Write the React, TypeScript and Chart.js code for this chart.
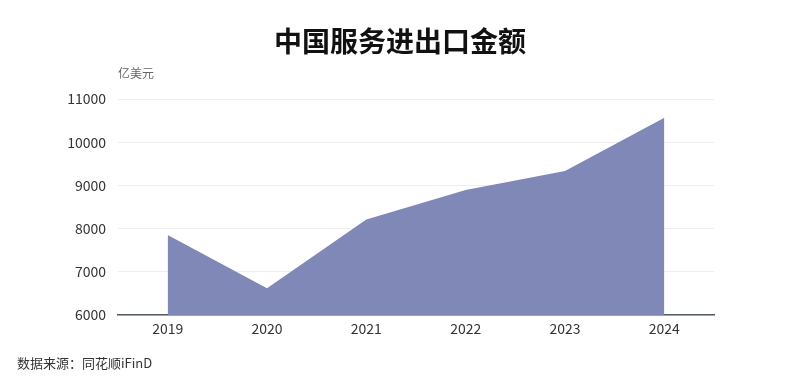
import React, { useEffect, useRef } from "react";
import { Chart, registerables } from "chart.js";

Chart.register(...registerables);

const categories = ["2019", "2020", "2021", "2022", "2023", "2024"];
const values = [7850, 6617, 8212, 8891, 9331, 10564];
const yTicks = [6000, 7000, 8000, 9000, 10000, 11000];
const titleText = "中国服务进出口金额";
const unitText = "亿美元";
const sourceText = "数据来源：同花顺iFinD";

const FONT = '"Noto Sans CJK SC", "Noto Sans", sans-serif';

export default function App() {
  const ref = useRef<HTMLCanvasElement | null>(null);

  useEffect(() => {
    document.body.style.margin = "0";
    const ctx = ref.current!;
    const chart = new Chart(ctx, {
      type: "line",
      data: {
        labels: categories,
        datasets: [
          {
            data: values,
            fill: "start",
            backgroundColor: "#7f88b6",
            borderWidth: 0,
            borderColor: "#7f88b6",
            pointRadius: 0,
            tension: 0,
          },
        ],
      },
      options: {
        animation: false,
        responsive: false,
        maintainAspectRatio: false,
        layout: { padding: { left: 0, right: 86, top: 99, bottom: 46 } },
        plugins: { legend: { display: false }, tooltip: { enabled: false }, title: { display: false } },
        scales: {
          x: {
            offset: true,
            grid: { display: false, drawTicks: false },
            border: { display: true, color: "#555b66", width: 1.5 },
            ticks: { color: "#333", font: { family: FONT, size: 14 }, padding: 5 },
            afterFit: (s: any) => { s.height = 30; },
          },
          y: {
            min: yTicks[0],
            max: yTicks[yTicks.length - 1],
            afterBuildTicks: (s: any) => { s.ticks = yTicks.map((v) => ({ value: v })); },
            grid: { color: "#eeeeee", lineWidth: 1, drawTicks: false },
            border: { display: false },
            ticks: {
              color: "#333",
              font: { family: FONT, size: 14 },
              padding: 12,
              callback: (v: any) => String(v),
            },
            afterFit: (s: any) => { s.width = 118; },
          },
        },
      },
    });
    return () => chart.destroy();
  }, []);

  return (
    <div style={{ position: "fixed", left: 0, top: 0, width: 800, height: 391, background: "#fff", fontFamily: FONT }}>
      <canvas ref={ref} width={800} height={391} style={{ position: "absolute", left: 0, top: 0, width: 800, height: 391 }} />
      <div style={{ position: "absolute", left: 0, width: 800, top: 20, textAlign: "center", fontSize: 28, fontWeight: 700, color: "#111", lineHeight: "40px" }}>
        {titleText}
      </div>
      <div style={{ position: "absolute", left: 118, top: 64, fontSize: 12, color: "#666", lineHeight: "18px" }}>{unitText}</div>
      <div style={{ position: "absolute", left: 17, top: 354, fontSize: 13, color: "#333", lineHeight: "18px" }}>{sourceText}</div>
    </div>
  );
}
